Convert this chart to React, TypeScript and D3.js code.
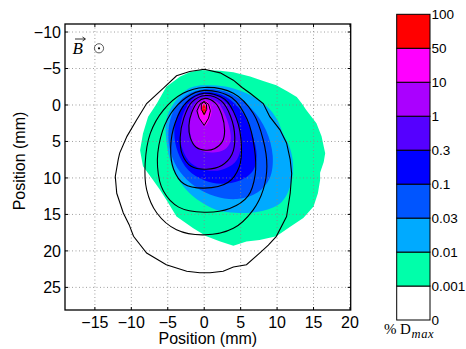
import { useEffect, useRef } from 'react'
import * as d3 from 'd3'

// Axis ticks (mm)
const xTicks = [-15, -10, -5, 0, 5, 10, 15, 20]
const yTicks = [-10, -5, 0, 5, 10, 15, 20, 25]

// Colour bar levels (% of Dmax), bottom to top
const levelLabels = ['0', '0.001', '0.01', '0.03', '0.1', '0.3', '1', '10', '50', '100']
const levelColors = ['#ffffff', '#00ffaa', '#00aaff', '#0055ff', '#0000ff', '#5500ff', '#aa00ff', '#ff00ff', '#ff0000']

// Filled isodose regions [x, y] in mm (lowest level first)
const fill0001 = [
  [-0.6, -4.8], [2.2, -4.7], [4.0, -4.5], [6.3, -3.9], [8.1, -3.3], [9.9, -2.7], [11.5, -1.8],
  [12.7, -1.1], [13.4, -0.2], [14.0, 0.7], [15.4, 2.5], [16.1, 4.3], [16.6, 6.6], [16.4, 7.8],
  [15.9, 9.3], [15.9, 10.3], [15.6, 12.1], [15.0, 13.9], [13.6, 15.5], [11.8, 16.7], [9.9, 18.0],
  [7.6, 18.5], [5.8, 18.7], [4.0, 19.3], [2.2, 18.7], [0.3, 18.0], [-1.5, 16.9], [-3.8, 15.3],
  [-5.2, 13.0], [-6.1, 11.6], [-7.0, 10.3], [-8.4, 8.4], [-8.8, 6.2], [-8.4, 3.9], [-7.7, 1.6],
  [-6.5, -0.2], [-5.2, -2.5], [-3.3, -3.9], [-2.0, -4.5]
]
const fill001 = [
  [0.3, -2.7], [3.1, -2.5], [5.8, -1.6], [8.6, 0.2], [10.0, 2.0], [10.8, 3.9], [11.8, 6.0],
  [12.2, 8.4], [11.8, 11.2], [10.4, 13.5], [7.6, 14.6], [4.9, 14.8], [2.5, 14.6], [1.2, 14.2],
  [-0.6, 13.2], [-2.0, 12.1], [-3.8, 9.8], [-4.7, 7.5], [-5.2, 4.8], [-5.2, 2.1], [-4.2, -0.2],
  [-2.4, -2.1], [-1.0, -2.6]
]
const fill003 = [
  [0.2, -2.2], [3.5, -1.6], [6.5, 0.5], [8.5, 3.5], [9.4, 7.0], [9.0, 10.0], [7.3, 12.0],
  [4.5, 12.9], [1.5, 12.5], [-1.2, 11.2], [-3.3, 9.2], [-4.6, 6.5], [-4.9, 3.5], [-4.2, 0.8],
  [-2.5, -1.3]
]
const fill01 = [
  [0.1, -1.8], [3.0, -1.1], [5.2, 1.0], [6.6, 4.0], [7.2, 7.0], [6.7, 9.0], [4.8, 10.4],
  [2.3, 10.8], [0.0, 10.3], [-2.2, 8.9], [-3.6, 6.5], [-4.1, 3.8], [-3.6, 1.2], [-2.0, -0.9]
]
const fill03 = [
  [0.1, -1.5], [2.5, -0.8], [4.0, 1.0], [4.9, 3.5], [5.0, 6.0], [4.2, 7.9], [2.3, 8.9],
  [0.2, 8.9], [-1.8, 8.0], [-3.0, 6.0], [-3.3, 3.5], [-2.8, 1.0], [-1.5, -0.9]
]
const fill1 = [
  [0.1, -1.0], [1.8, -0.4], [2.8, 1.2], [3.5, 3.3], [3.6, 5.0], [2.8, 6.1], [1.2, 6.5],
  [-0.5, 6.2], [-1.6, 5.0], [-2.0, 3.0], [-1.8, 1.0], [-1.0, -0.5]
]
const fill10 = [
  [0.1, -0.6], [0.8, 0.0], [1.0, 1.0], [0.7, 2.0], [0.1, 2.9], [-0.5, 2.0], [-0.8, 1.0], [-0.5, 0.0]
]
const fill50 = [
  [-0.05, -0.1], [0.2, 0.3], [0.2, 1.0], [0.0, 1.4], [-0.25, 1.0], [-0.25, 0.3]
]

// Black reference isodose lines [x, y] in mm
const line0001 = [
  [0.0, -4.9], [2.2, -4.4], [4.0, -3.4], [5.2, -2.4], [6.3, -1.6], [8.1, -0.2], [9.0, 1.6],
  [10.4, 3.4], [11.3, 5.2], [11.8, 7.5], [12.0, 9.4], [11.9, 10.8], [11.8, 12.1], [11.3, 15.3],
  [9.9, 18.0], [8.8, 19.2], [7.6, 20.3], [5.8, 21.9], [4.0, 22.2], [2.6, 22.8], [0.8, 23.0],
  [-0.6, 23.0], [-2.4, 22.8], [-5.2, 21.9], [-7.9, 20.3], [-9.7, 18.0], [-10.3, 16.4],
  [-11.1, 14.8], [-12.0, 12.1], [-12.2, 9.8], [-11.8, 7.5], [-11.6, 6.6], [-10.6, 4.3],
  [-9.3, 2.1], [-7.9, -0.2], [-5.6, -2.3], [-3.8, -4.0], [-2.0, -4.6]
]
const line001 = [
  [0.0, -2.4], [4.0, -1.6], [6.7, 1.1], [8.1, 4.8], [8.6, 8.4], [8.1, 11.6], [6.7, 14.4],
  [4.0, 16.9], [0.0, 17.8], [-3.8, 17.1], [-6.5, 14.8], [-7.9, 11.6], [-8.1, 8.0], [-7.4, 3.9],
  [-5.6, 0.7], [-2.9, -1.6]
]
const line003 = [
  [0.0, -2.0], [3.8, -1.0], [5.9, 2.0], [6.9, 6.0], [7.0, 9.5], [6.0, 12.5], [3.5, 14.2],
  [0.0, 14.7], [-3.5, 14.0], [-5.6, 11.8], [-6.4, 8.5], [-6.0, 4.5], [-4.6, 1.2], [-2.5, -1.0]
]
const line01 = [
  [0.0, -1.6], [2.8, -0.8], [4.4, 1.8], [5.1, 5.5], [4.8, 8.5], [3.3, 10.6], [0.0, 11.4],
  [-2.8, 10.8], [-4.2, 8.8], [-4.6, 5.8], [-4.0, 2.5], [-2.5, -0.3]
]
const line03 = [
  [0.2, -1.3], [2.3, -0.6], [3.6, 1.5], [4.2, 4.5], [3.8, 6.8], [2.4, 8.3], [0.3, 8.8],
  [-1.8, 8.4], [-3.0, 6.8], [-3.3, 4.5], [-2.8, 1.8], [-1.7, -0.4]
]
const line1 = [
  [0.1, -0.9], [1.5, -0.3], [2.4, 1.3], [2.8, 3.5], [2.5, 5.0], [1.4, 6.0], [0.2, 6.2],
  [-1.1, 5.8], [-1.9, 4.5], [-2.1, 2.8], [-1.7, 1.0], [-0.9, -0.4]
]
const line10 = [
  [0.0, -0.5], [0.6, -0.1], [0.85, 0.8], [0.6, 1.8], [0.0, 2.8], [-0.7, 1.8], [-1.0, 0.8], [-0.6, -0.1]
]
const line50 = [
  [-0.05, -0.4], [0.3, -0.1], [0.35, 0.6], [0.0, 1.3], [-0.4, 0.6], [-0.4, -0.1]
]

const fills = [fill0001, fill001, fill003, fill01, fill03, fill1, fill10, fill50]
const smoothLines = [line001, line003, line01, line03, line1]

function DoseMap() {
  const svgRef = useRef<SVGSVGElement>(null)

  useEffect(() => {
    if (!svgRef.current) return
    const svg = d3.select(svgRef.current)
    svg.selectAll('*').remove()

    const plot = { left: 65, right: 350.7, top: 24, bottom: 310 }
    const sans = 'Liberation Sans, Arial, Helvetica, sans-serif'
    const serif = 'Liberation Serif, DejaVu Serif, serif'
    const fmt = (d: number) => String(d).replace('-', '\u2212')

    const x = d3.scaleLinear().domain([-19.1, 20.1]).range([plot.left, plot.right])
    const y = d3.scaleLinear().domain([-11.1, 28.1]).range([plot.top, plot.bottom])

    const smooth = d3.line<number[]>()
      .x(d => x(d[0]))
      .y(d => y(d[1]))
      .curve(d3.curveCatmullRomClosed.alpha(0.5))
    const rough = d3.line<number[]>()
      .x(d => x(d[0]))
      .y(d => y(d[1]))
      .curve(d3.curveLinearClosed)

    svg.append('defs').append('clipPath').attr('id', 'plot-clip')
      .append('rect')
      .attr('x', plot.left).attr('y', plot.top)
      .attr('width', plot.right - plot.left).attr('height', plot.bottom - plot.top)

    svg.append('rect')
      .attr('x', plot.left).attr('y', plot.top)
      .attr('width', plot.right - plot.left).attr('height', plot.bottom - plot.top)
      .attr('fill', '#fff')

    const g = svg.append('g').attr('clip-path', 'url(#plot-clip)')

    // filled isodose regions
    fills.forEach((pts, i) => {
      g.append('path')
        .attr('d', i === 0 ? rough(pts) : smooth(pts))
        .attr('fill', levelColors[i + 1])
        .attr('stroke', 'none')
    })

    // dotted grid
    xTicks.forEach(t => {
      g.append('line')
        .attr('x1', x(t)).attr('x2', x(t))
        .attr('y1', plot.top).attr('y2', plot.bottom)
        .attr('stroke', '#888').attr('stroke-width', 0.8)
        .attr('stroke-dasharray', '1,2.5')
    })
    yTicks.forEach(t => {
      g.append('line')
        .attr('x1', plot.left).attr('x2', plot.right)
        .attr('y1', y(t)).attr('y2', y(t))
        .attr('stroke', '#888').attr('stroke-width', 0.8)
        .attr('stroke-dasharray', '1,2.5')
    })

    // black isodose lines
    g.append('path').attr('d', rough(line0001))
      .attr('fill', 'none').attr('stroke', '#000').attr('stroke-width', 1.1)
    smoothLines.forEach(pts => {
      g.append('path').attr('d', smooth(pts))
        .attr('fill', 'none').attr('stroke', '#000').attr('stroke-width', 1.1)
    })
    ;[line10, line50].forEach(pts => {
      g.append('path').attr('d', rough(pts))
        .attr('fill', 'none').attr('stroke', '#000').attr('stroke-width', 1)
    })

    // frame + inward ticks
    svg.append('rect')
      .attr('x', plot.left).attr('y', plot.top)
      .attr('width', plot.right - plot.left).attr('height', plot.bottom - plot.top)
      .attr('fill', 'none').attr('stroke', '#000').attr('stroke-width', 1.3)
    const tl = 3
    xTicks.forEach(t => {
      svg.append('line').attr('x1', x(t)).attr('x2', x(t)).attr('y1', plot.bottom).attr('y2', plot.bottom - tl).attr('stroke', '#000')
      svg.append('line').attr('x1', x(t)).attr('x2', x(t)).attr('y1', plot.top).attr('y2', plot.top + tl).attr('stroke', '#000')
    })
    yTicks.forEach(t => {
      svg.append('line').attr('x1', plot.left).attr('x2', plot.left + tl).attr('y1', y(t)).attr('y2', y(t)).attr('stroke', '#000')
      svg.append('line').attr('x1', plot.right).attr('x2', plot.right - tl).attr('y1', y(t)).attr('y2', y(t)).attr('stroke', '#000')
    })

    // tick labels
    svg.append('g').selectAll('text').data(xTicks).enter().append('text')
      .attr('x', d => x(d)).attr('y', 328)
      .attr('text-anchor', 'middle')
      .style('font-family', sans).style('font-size', '16px')
      .text(d => fmt(d))
    svg.append('g').selectAll('text').data(yTicks).enter().append('text')
      .attr('x', 61).attr('y', d => y(d)).attr('dy', '0.36em')
      .attr('text-anchor', 'end')
      .style('font-family', sans).style('font-size', '16px')
      .text(d => fmt(d))

    // axis titles
    svg.append('text')
      .attr('x', (plot.left + plot.right) / 2).attr('y', 344)
      .attr('text-anchor', 'middle')
      .style('font-family', sans).style('font-size', '16px')
      .text('Position (mm)')
    svg.append('text')
      .attr('transform', `translate(25,${(plot.top + plot.bottom) / 2 - 6}) rotate(-90)`)
      .attr('text-anchor', 'middle')
      .style('font-family', sans).style('font-size', '16px')
      .text('Position (mm)')

    // B field out of the page
    svg.append('text')
      .attr('x', 72.5).attr('y', 53.5)
      .style('font-family', serif).style('font-style', 'italic').style('font-size', '17px')
      .text('B')
    svg.append('line').attr('x1', 75).attr('x2', 85).attr('y1', 39).attr('y2', 39)
      .attr('stroke', '#000').attr('stroke-width', 0.8)
    svg.append('path').attr('d', 'M82.5,37 L85.5,39 L82.5,41').attr('fill', 'none')
      .attr('stroke', '#000').attr('stroke-width', 0.8)
    svg.append('circle').attr('cx', 99).attr('cy', 48.3).attr('r', 4.6)
      .attr('fill', 'none').attr('stroke', '#333').attr('stroke-width', 0.8)
    svg.append('circle').attr('cx', 99).attr('cy', 48.3).attr('r', 1.1).attr('fill', '#000')

    // colour bar
    const cb = { left: 396.7, right: 430, top: 14.3, bottom: 320 }
    const cy = d3.scaleLinear().domain([0, levelColors.length]).range([cb.bottom, cb.top])
    const bar = svg.append('g')
    levelColors.forEach((c, i) => {
      bar.append('rect')
        .attr('x', cb.left).attr('y', cy(i + 1))
        .attr('width', cb.right - cb.left).attr('height', cy(i) - cy(i + 1))
        .attr('fill', c).attr('stroke', '#000').attr('stroke-width', 1)
    })
    bar.selectAll('text.lv').data(levelLabels).enter().append('text')
      .attr('class', 'lv')
      .attr('x', cb.right + 1.5).attr('y', (_, i) => cy(i)).attr('dy', '0.36em')
      .style('font-family', sans).style('font-size', '13.5px')
      .text(d => d)

    const unit = svg.append('g').style('font-family', serif)
    unit.append('text').attr('x', 384).attr('y', 334).style('font-size', '15px').text('%')
    unit.append('text').attr('x', 400).attr('y', 334).style('font-size', '15px').text('D')
    unit.append('text').attr('x', 411.5).attr('y', 338)
      .style('font-size', '12.5px').style('font-style', 'italic').style('letter-spacing', '0.6px')
      .text('max')
  }, [])

  return (
    <svg
      ref={svgRef}
      width={466}
      height={349}
      style={{ position: 'absolute', left: 0, top: 0, background: '#fff' }}
    />
  )
}

export default function App() {
  return <DoseMap />
}
